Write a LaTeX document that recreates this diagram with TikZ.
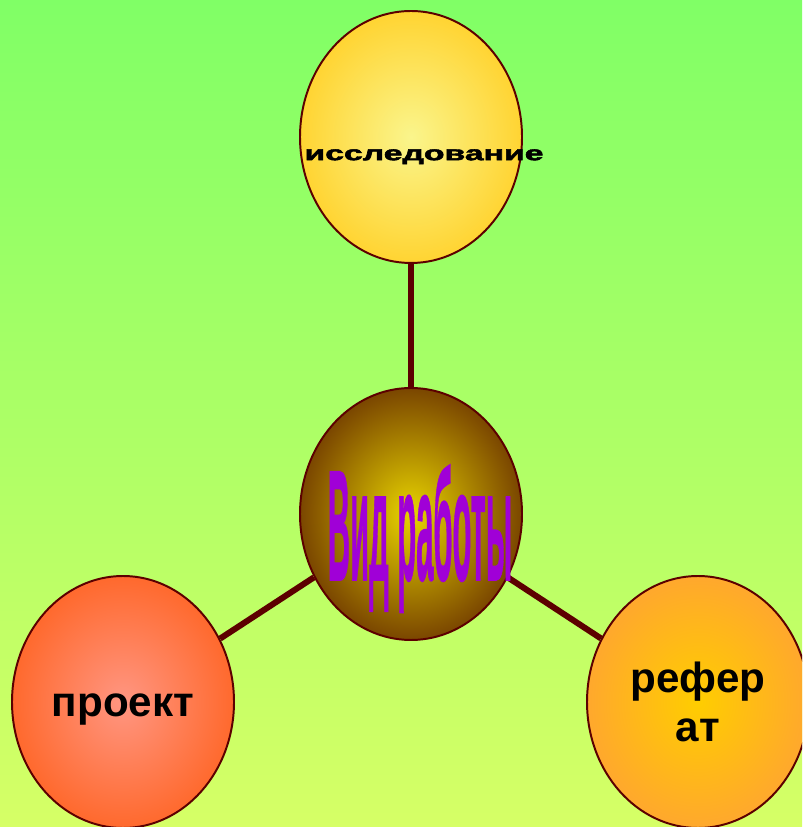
\documentclass[tikz,border=0pt]{standalone}
\usepackage{fontspec}
\setmainfont{Liberation Sans}
\usetikzlibrary{shapes.geometric,calc}
\definecolor{bgtop}{RGB}{128,255,102}
\definecolor{bgbottom}{RGB}{214,255,102}
\definecolor{rim}{RGB}{92,0,0}
\definecolor{kindtext}{RGB}{160,0,215}
\tikzset{
bubble/.style={ellipse,draw=rim,line width=1.4pt,minimum width=5.55cm,minimum height=6.3cm,inner sep=0pt,shading=radial},
link/.style={draw=rim,line width=4.3pt},
word/.style={font=\bfseries\fontsize{30}{35}\selectfont,align=center,text=black},
kindword/.style={anchor=base,font=\bfseries\fontsize{20}{20}\selectfont\addfontfeature{FakeBold=1},xscale=1.1,yscale=5.6},
}
\tikzstyle{every node}=[font=\bfseries]

\begin{document}
\begin{tikzpicture}
        % background
        \useasboundingbox (0,0) rectangle (20.05,20.675);
        \clip (0,0) rectangle (20.05,20.675);
        \fill[top color=bgtop,bottom color=bgbottom] (0,0) rectangle (20.05,20.675);

        % bubbles
        \node[bubble,inner color={rgb,255:red,250;green,245;blue,140},outer color={rgb,255:red,255;green,212;blue,50}] 
            (research) at (10.275,17.25) {};
        \node[bubble,inner color={rgb,255:red,232;green,212;blue,0},outer color={rgb,255:red,122;green,70;blue,0}] 
            (kind) at (10.275,7.825) {};
        \node[bubble,word,text height=0.75cm,text depth=0pt,inner color={rgb,255:red,255;green,150;blue,130},outer color={rgb,255:red,255;green,105;blue,45}] 
            (project) at (3.075,3.125) {проект};
        \node[bubble,word,inner color={rgb,255:red,255;green,205;blue,0},outer color={rgb,255:red,255;green,168;blue,45}] 
            (essay) at (17.45,3.125) {рефер\\ат};

        % links
        \draw[link] (research) -- (kind);
        \draw[link] (kind) -- (project);
        \draw[link] (kind) -- (essay);

        % labels
        \node[anchor=base,font=\bfseries\fontsize{10}{10}\selectfont\addfontfeature{FakeBold=2},xscale=2.4,yscale=1.45] 
            (researchtext) at ($(research)+(0.325,-0.58)$) {исследование};
        \node[kindword,text=kindtext] 
            (kindtext) at ($(kind)+(0.225,-1.65)$) {Вид работы};
\end{tikzpicture}
\end{document}
